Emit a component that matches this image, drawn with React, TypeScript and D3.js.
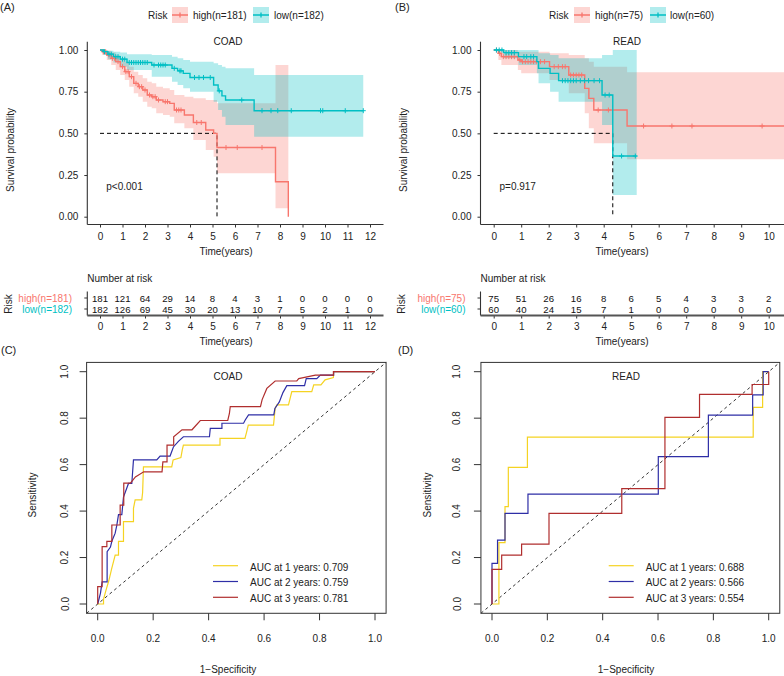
import * as d3 from 'd3'
import { useEffect, useRef } from 'react'

const RED = '#F8766D'
const TEAL = '#00BFC4'
const FONT = '"Liberation Sans", Arial, Helvetica, sans-serif'

// ---- Kaplan-Meier steps: time (years), survival, 95% CI ----
const coadHighTime = [0, 0.1, 0.3, 0.5, 0.7, 0.9, 1.1, 1.3, 1.5, 1.7, 1.9, 2.1, 2.3, 2.5, 2.8, 3.1, 3.3, 3.75, 4.15, 4.7, 5.05, 5.2, 7.8, 8.37]
const coadHighSurv = [1, 0.99, 0.97, 0.95, 0.93, 0.9, 0.87, 0.84, 0.8, 0.78, 0.76, 0.73, 0.72, 0.7, 0.69, 0.68, 0.64, 0.61, 0.565, 0.52, 0.5, 0.415, 0.21, 0]
const coadHighLower = [1, 0.97, 0.94, 0.91, 0.88, 0.85, 0.82, 0.78, 0.74, 0.72, 0.69, 0.66, 0.65, 0.62, 0.61, 0.6, 0.56, 0.53, 0.46, 0.4, 0.36, 0.26, 0.05, 0]
const coadHighUpper = [1, 1, 0.995, 0.985, 0.97, 0.95, 0.93, 0.9, 0.87, 0.85, 0.83, 0.81, 0.8, 0.78, 0.77, 0.76, 0.73, 0.72, 0.71, 0.7, 0.7, 0.68, 0.91, 0]
const coadHighCensor = [0.15, 0.25, 0.4, 0.55, 0.65, 0.8, 1.0, 1.15, 1.25, 1.4, 1.6, 1.75, 1.85, 2.0, 2.2, 2.35, 2.45, 2.6, 2.9, 3.0, 3.4, 3.5, 3.6, 4.3, 4.5, 5.6, 6.1, 7.2]
const coadHighEnd = 8.37

const coadLowTime = [0, 0.15, 0.35, 0.6, 0.9, 1.2, 2.3, 3.2, 3.45, 3.7, 4.0, 5.05, 5.25, 5.42, 5.58, 6.85]
const coadLowSurv = [1, 0.99, 0.975, 0.96, 0.945, 0.925, 0.91, 0.89, 0.875, 0.86, 0.835, 0.79, 0.755, 0.725, 0.7, 0.636]
const coadLowLower = [1, 0.97, 0.945, 0.925, 0.9, 0.88, 0.84, 0.81, 0.79, 0.77, 0.75, 0.69, 0.64, 0.6, 0.55, 0.48]
const coadLowUpper = [1, 1, 0.995, 0.99, 0.985, 0.975, 0.97, 0.96, 0.95, 0.94, 0.93, 0.92, 0.91, 0.9, 0.89, 0.85]
const coadLowCensor = [0.2, 0.4, 0.5, 0.7, 0.8, 1.0, 1.1, 1.3, 1.4, 1.5, 1.6, 1.7, 1.8, 1.9, 2.0, 2.1, 2.4, 2.6, 2.7, 2.8, 2.9, 3.3, 3.55, 3.6, 4.2, 4.4, 4.6, 4.9, 5.3, 6.3, 7.2, 7.6, 7.9, 8.5, 9.8, 9.9, 10.9, 11.7]
const coadLowEnd = 11.7

const readHighTime = [0, 0.17, 0.28, 0.88, 1.0, 2.03, 2.73, 3.31, 3.46, 3.64, 4.85]
const readHighSurv = [1, 0.98, 0.96, 0.94, 0.93, 0.9, 0.85, 0.77, 0.71, 0.64, 0.544]
const readHighLower = [1, 0.94, 0.91, 0.88, 0.86, 0.82, 0.74, 0.62, 0.53, 0.44, 0.344]
const readHighUpper = [1, 1, 1, 0.99, 0.99, 0.98, 0.97, 0.95, 0.93, 0.9, 0.866]
const readHighCensor = [0.1, 0.22, 0.35, 0.45, 0.55, 0.65, 0.75, 0.95, 1.05, 1.15, 1.25, 1.35, 1.45, 1.55, 1.7, 1.85, 2.2, 2.35, 2.5, 2.6, 2.8, 2.9, 3.0, 3.1, 3.2, 3.8, 4.17, 5.45, 6.48, 7.21, 9.76]
const readHighEnd = 11.5

const readLowTime = [0, 0.36, 0.9, 1.57, 1.63, 2.05, 2.36, 3.94, 4.33]
const readLowSurv = [1, 0.984, 0.96, 0.93, 0.89, 0.86, 0.816, 0.73, 0.364]
const readLowLower = [1, 0.95, 0.91, 0.86, 0.8, 0.75, 0.69, 0.55, 0.13]
const readLowUpper = [1, 1, 1, 1, 0.98, 0.97, 0.95, 0.97, 1]
const readLowCensor = [0.1, 0.2, 0.3, 0.45, 0.55, 0.65, 0.75, 1.1, 1.2, 1.35, 1.45, 2.5, 2.6, 2.7, 2.8, 2.9, 3.0, 3.15, 3.3, 3.45, 3.65, 3.85, 4.05, 4.2, 4.65, 5.15]
const readLowEnd = 5.2

const coadMedian = 5.2
const readMedian = 4.33

const coadTimeTicks = [0, 1, 2, 3, 4, 5, 6, 7, 8, 9, 10, 11, 12]
const readTimeTicks = [0, 1, 2, 3, 4, 5, 6, 7, 8, 9, 10]
const survTicks = [0, 0.25, 0.5, 0.75, 1]

const coadRiskHigh = [181, 121, 64, 29, 14, 8, 4, 3, 1, 0, 0, 0, 0]
const coadRiskLow = [182, 126, 69, 45, 30, 20, 13, 10, 7, 5, 2, 1, 0]
const readRiskHigh = [75, 51, 26, 16, 8, 6, 5, 4, 3, 3, 2]
const readRiskLow = [60, 40, 24, 15, 7, 1, 0, 0, 0, 0, 0]

// ---- time-dependent ROC: [1-specificity, sensitivity] ----
const coadRoc1 = [[0, 0], [0.021, 0], [0.021, 0.02], [0.03, 0.06], [0.04, 0.1], [0.05, 0.15], [0.063, 0.21], [0.075, 0.21], [0.075, 0.27], [0.093, 0.27], [0.093, 0.355], [0.129, 0.355], [0.129, 0.412], [0.135, 0.448], [0.159, 0.448], [0.162, 0.48], [0.165, 0.59], [0.267, 0.59], [0.272, 0.62], [0.3, 0.63], [0.305, 0.663], [0.309, 0.684], [0.441, 0.684], [0.441, 0.713], [0.531, 0.713], [0.537, 0.74], [0.543, 0.77], [0.634, 0.77], [0.64, 0.842], [0.646, 0.857], [0.688, 0.857], [0.7, 0.914], [0.772, 0.914], [0.779, 0.943], [0.805, 0.943], [0.82, 0.965], [0.85, 0.975], [0.851, 1], [1, 1]]
const coadRoc2 = [[0, 0], [0.01, 0.047], [0.016, 0.095], [0.034, 0.095], [0.034, 0.225], [0.046, 0.245], [0.051, 0.27], [0.063, 0.305], [0.069, 0.34], [0.075, 0.385], [0.087, 0.385], [0.093, 0.46], [0.111, 0.519], [0.123, 0.519], [0.129, 0.62], [0.213, 0.62], [0.225, 0.637], [0.261, 0.637], [0.273, 0.676], [0.291, 0.7], [0.309, 0.72], [0.403, 0.72], [0.406, 0.756], [0.448, 0.756], [0.448, 0.778], [0.526, 0.778], [0.532, 0.792], [0.544, 0.814], [0.635, 0.814], [0.639, 0.842], [0.655, 0.87], [0.668, 0.91], [0.682, 0.94], [0.746, 0.94], [0.752, 0.97], [0.79, 0.97], [0.803, 0.985], [0.851, 0.985], [0.851, 1], [1, 1]]
const coadRoc3 = [[0, 0], [0, 0.075], [0.016, 0.075], [0.016, 0.247], [0.033, 0.247], [0.033, 0.27], [0.051, 0.27], [0.051, 0.34], [0.081, 0.34], [0.081, 0.426], [0.094, 0.426], [0.094, 0.52], [0.118, 0.52], [0.136, 0.547], [0.166, 0.569], [0.232, 0.569], [0.235, 0.612], [0.25, 0.612], [0.25, 0.684], [0.274, 0.684], [0.274, 0.72], [0.304, 0.75], [0.34, 0.75], [0.37, 0.79], [0.469, 0.79], [0.475, 0.82], [0.478, 0.85], [0.587, 0.85], [0.593, 0.88], [0.61, 0.928], [0.64, 0.96], [0.718, 0.96], [0.725, 0.97], [0.785, 0.985], [0.85, 0.985], [0.85, 1], [1, 1]]

const readRoc1 = [[0, 0], [0.025, 0], [0.025, 0.264], [0.047, 0.264], [0.047, 0.419], [0.059, 0.419], [0.059, 0.588], [0.128, 0.588], [0.128, 0.718], [0.944, 0.718], [0.944, 0.846], [0.978, 0.846], [0.978, 1], [1, 1]]
const readRoc2 = [[0, 0], [0, 0.175], [0.02, 0.175], [0.02, 0.275], [0.047, 0.275], [0.047, 0.39], [0.13, 0.39], [0.13, 0.473], [0.601, 0.473], [0.601, 0.634], [0.782, 0.634], [0.782, 0.813], [0.942, 0.813], [0.942, 0.9], [0.98, 0.9], [0.98, 1], [1, 1]]
const readRoc3 = [[0, 0], [0, 0.149], [0.035, 0.149], [0.035, 0.21], [0.107, 0.21], [0.107, 0.258], [0.206, 0.258], [0.206, 0.39], [0.469, 0.39], [0.469, 0.497], [0.625, 0.497], [0.625, 0.803], [0.75, 0.803], [0.75, 0.902], [0.94, 0.902], [0.94, 0.945], [1, 0.945], [1, 1]]

const rocTicks = [0, 0.2, 0.4, 0.6, 0.8, 1]
const rocYears = [1, 2, 3]
const coadAuc = [0.709, 0.759, 0.781]
const readAuc = [0.688, 0.566, 0.554]
const rocColors = ['#F5D322', '#2E2EA6', '#B02E2E']

type Sel = d3.Selection<SVGSVGElement, unknown, null, undefined>
type Group = { time: number[]; surv: number[]; lower: number[]; upper: number[]; censor: number[]; end: number; color: string; label: string; risk: number[] }

function stepPoints(gr: Group) {
    const pts = gr.time.map((t, i) => ({ t, s: gr.surv[i], lo: gr.lower[i], hi: gr.upper[i] }))
    const last = pts[pts.length - 1]
    if (gr.end > last.t) pts.push({ ...last, t: gr.end })
    return pts
}

function survAt(gr: Group, t: number) {
    let s = gr.surv[0]
    gr.time.forEach((tt, i) => { if (tt <= t) s = gr.surv[i] })
    return s
}

function drawKM(svg: Sel, c: any) {
    const g = svg.append('g')
    const x = d3.scaleLinear().domain([0, c.xMax]).range([c.x0, c.x1])
    const y = d3.scaleLinear().domain([0, 1]).range([216.7, 50])
    const groups: Group[] = c.groups

    const area = d3.area<any>().x(d => x(d.t)).y0(d => y(d.lo)).y1(d => y(d.hi)).curve(d3.curveStepAfter)
    const line = d3.line<any>().x(d => x(d.t)).y(d => y(d.s)).curve(d3.curveStepAfter)

    groups.forEach(gr => {
        g.append('path').attr('d', area(stepPoints(gr))).attr('fill', gr.color).attr('fill-opacity', 0.3)
    })
    // median lines
    g.append('path')
        .attr('d', `M${x(0)},${y(0.5)}H${x(c.median)}V${y(0)}`)
        .attr('fill', 'none').attr('stroke', '#000').attr('stroke-width', 1).attr('stroke-dasharray', '4,3')
    groups.forEach(gr => {
        g.append('path').attr('d', line(stepPoints(gr))).attr('fill', 'none').attr('stroke', gr.color).attr('stroke-width', 1.4)
        g.append('g').selectAll('path').data(gr.censor).enter().append('path')
            .attr('d', t => `M${x(t) - 2.5},${y(survAt(gr, t))}h5M${x(t)},${y(survAt(gr, t)) - 2.5}v5`)
            .attr('stroke', gr.color).attr('stroke-width', 1)
    })

    // axes
    const gx = g.append('g').attr('transform', 'translate(0,224.5)')
        .call(d3.axisBottom(x).tickValues(c.ticks).tickSize(3).tickPadding(5).tickFormat(d3.format('d')))
    gx.select('.domain').remove()
    gx.attr('font-family', FONT).attr('font-size', 10)
    gx.selectAll('text').attr('fill', '#222')
    gx.selectAll('line').attr('stroke', '#333')
    g.append('line').attr('x1', c.axisLeft).attr('x2', c.axisRight).attr('y1', 224.5).attr('y2', 224.5).attr('stroke', '#333').attr('stroke-width', 1.1)

    const gy = g.append('g').attr('transform', `translate(${c.axisLeft},0)`)
        .call(d3.axisLeft(y).tickValues(survTicks).tickSize(3).tickPadding(6).tickFormat(d3.format('.2f')))
    gy.select('.domain').remove()
    gy.attr('font-family', FONT).attr('font-size', 10)
    gy.selectAll('text').attr('fill', '#222')
    gy.selectAll('line').attr('stroke', '#333')
    g.append('line').attr('x1', c.axisLeft).attr('x2', c.axisLeft).attr('y1', 41.7).attr('y2', 224.5).attr('stroke', '#333').attr('stroke-width', 1.1)

    const txt = (tx: number, ty: number, s: string) =>
        g.append('text').attr('x', tx).attr('y', ty).text(s).attr('font-size', 10).attr('fill', '#222')
    txt(c.titleX, 45, c.title).attr('text-anchor', 'middle')
    txt(c.axisLeft + 19, 190, c.pText)
    txt(c.timeX, 255, 'Time(years)').attr('text-anchor', 'middle')
    txt(c.survX, 150, 'Survival probability').attr('text-anchor', 'middle').attr('transform', `rotate(-90,${c.survX},150)`)

    // legend
    txt(c.legend[0], 19, 'Risk')
    groups.forEach((gr, i) => {
        const bx = c.legend[1 + i * 2]
        g.append('rect').attr('x', bx).attr('y', 7).attr('width', 16).attr('height', 16).attr('fill', gr.color).attr('fill-opacity', 0.3)
        g.append('path').attr('d', `M${bx},15h16M${bx + 8},12.5v5`).attr('stroke', gr.color).attr('stroke-width', 1.3)
        txt(c.legend[2 + i * 2], 19, gr.label)
    })

    // risk table
    txt(c.axisLeft, 282, 'Number at risk')
    const rowY = [298, 309]
    groups.forEach((gr, i) => {
        g.append('g').selectAll('text').data(gr.risk).enter().append('text')
            .attr('x', (_, j) => x(c.ticks[j])).attr('y', rowY[i] + 3.6)
            .attr('text-anchor', 'middle').attr('font-size', 9.6).attr('fill', '#111')
            .text(d => d)
        txt(c.rowLabelX, rowY[i] + 3.6, gr.label).attr('text-anchor', 'end').attr('fill', gr.color)
        g.append('line').attr('x1', c.axisLeft - 3).attr('x2', c.axisLeft).attr('y1', rowY[i]).attr('y2', rowY[i]).attr('stroke', '#333')
    })
    g.append('line').attr('x1', c.axisLeft).attr('x2', c.axisLeft).attr('y1', 291.5).attr('y2', 315.5).attr('stroke', '#333').attr('stroke-width', 1.1)
    txt(c.riskX, 304, 'Risk').attr('text-anchor', 'middle').attr('transform', `rotate(-90,${c.riskX},304)`)
    const gr2 = g.append('g').attr('transform', 'translate(0,315.5)')
        .call(d3.axisBottom(x).tickValues(c.ticks).tickSize(3).tickPadding(4).tickFormat(d3.format('d')))
    gr2.select('.domain').remove()
    gr2.attr('font-family', FONT).attr('font-size', 10)
    gr2.selectAll('text').attr('fill', '#222')
    gr2.selectAll('line').attr('stroke', '#333')
    g.append('line').attr('x1', c.axisLeft).attr('x2', c.axisRight).attr('y1', 315.5).attr('y2', 315.5).attr('stroke', '#555').attr('stroke-width', 1.8)
    txt(c.timeX, 344.5, 'Time(years)').attr('text-anchor', 'middle')
}

function drawROC(svg: Sel, c: any) {
    const g = svg.append('g')
    const x = d3.scaleLinear().domain([0, 1]).range([c.x0, c.x1])
    const y = d3.scaleLinear().domain([0, 1]).range([604, 371.7])
    const lo = -0.04, hi = 1.04

    g.append('line').attr('x1', x(lo)).attr('y1', y(lo)).attr('x2', x(hi)).attr('y2', y(hi))
        .attr('stroke', '#333').attr('stroke-width', 1).attr('stroke-dasharray', '3,3')

    const line = d3.line<number[]>().x(d => x(d[0])).y(d => y(d[1]))
    c.curves.forEach((pts: number[][], i: number) => {
        g.append('path').attr('d', line(pts)).attr('fill', 'none').attr('stroke', rocColors[i]).attr('stroke-width', 1.2)
    })

    g.append('rect').attr('x', x(lo)).attr('y', y(hi)).attr('width', x(hi) - x(lo)).attr('height', y(lo) - y(hi))
        .attr('fill', 'none').attr('stroke', '#333').attr('stroke-width', 1)

    const bottom = y(lo), left = x(lo)
    rocTicks.forEach(t => {
        g.append('line').attr('x1', x(t)).attr('x2', x(t)).attr('y1', bottom).attr('y2', bottom + 7).attr('stroke', '#333')
        g.append('text').attr('x', x(t)).attr('y', 641.7).attr('text-anchor', 'middle').attr('font-size', 10).attr('fill', '#222').text(t.toFixed(1))
        g.append('line').attr('x1', left - 7).attr('x2', left).attr('y1', y(t)).attr('y2', y(t)).attr('stroke', '#333')
        g.append('text').attr('x', c.yLabX).attr('y', y(t)).attr('text-anchor', 'middle').attr('font-size', 10).attr('fill', '#222')
            .attr('transform', `rotate(-90,${c.yLabX},${y(t)})`).text(t.toFixed(1))
    })
    g.append('text').attr('x', c.titleX).attr('y', 380).attr('text-anchor', 'middle').attr('font-size', 10).attr('fill', '#222').text(c.title)
    g.append('text').attr('x', c.titleX).attr('y', 673).attr('text-anchor', 'middle').attr('font-size', 10).attr('fill', '#222').text('1\u2212Specificity')
    g.append('text').attr('x', c.sensX).attr('y', 495).attr('text-anchor', 'middle').attr('font-size', 10).attr('fill', '#222')
        .attr('transform', `rotate(-90,${c.sensX},495)`).text('Sensitivity')

    rocYears.forEach((yr, i) => {
        const ly = 565.7 + i * 15.8
        g.append('line').attr('x1', c.legX).attr('x2', c.legX + 25).attr('y1', ly).attr('y2', ly).attr('stroke', rocColors[i]).attr('stroke-width', 1.2)
        g.append('text').attr('x', c.legX + 37).attr('y', ly + 4.8).attr('font-size', 10).attr('fill', '#222')
            .text(`AUC at ${yr} years: ${c.auc[i].toFixed(3)}`)
    })
}

export default function App() {
    const svgRef = useRef<SVGSVGElement>(null)

    useEffect(() => {
        document.body.style.margin = '0'
        const svg = d3.select(svgRef.current!) as Sel
        svg.selectAll('*').remove()
        svg.attr('font-family', FONT)

        drawKM(svg, {
            x0: 100, x1: 370, xMax: 12, axisLeft: 87.3, axisRight: 383.5, ticks: coadTimeTicks,
            median: coadMedian, pText: 'p<0.001', title: 'COAD', titleX: 228, timeX: 226, survX: 13.5,
            legend: [148, 172, 193, 253, 274], rowLabelX: 72, riskX: 11.5,
            groups: [
                { time: coadHighTime, surv: coadHighSurv, lower: coadHighLower, upper: coadHighUpper, censor: coadHighCensor, end: coadHighEnd, color: RED, label: 'high(n=181)', risk: coadRiskHigh },
                { time: coadLowTime, surv: coadLowSurv, lower: coadLowLower, upper: coadLowUpper, censor: coadLowCensor, end: coadLowEnd, color: TEAL, label: 'low(n=182)', risk: coadRiskLow },
            ],
        })
        drawKM(svg, {
            x0: 493.7, x1: 768.7, xMax: 10, axisLeft: 480.5, axisRight: 800, ticks: readTimeTicks,
            median: readMedian, pText: 'p=0.917', title: 'READ', titleX: 627, timeX: 622, survX: 407,
            legend: [549, 574, 595, 650, 670], rowLabelX: 465.5, riskX: 405,
            groups: [
                { time: readHighTime, surv: readHighSurv, lower: readHighLower, upper: readHighUpper, censor: readHighCensor, end: readHighEnd, color: RED, label: 'high(n=75)', risk: readRiskHigh },
                { time: readLowTime, surv: readLowSurv, lower: readLowLower, upper: readLowUpper, censor: readLowCensor, end: readLowEnd, color: TEAL, label: 'low(n=60)', risk: readRiskLow },
            ],
        })
        drawROC(svg, { x0: 97.7, x1: 375, curves: [coadRoc1, coadRoc2, coadRoc3], auc: coadAuc, title: 'COAD', titleX: 228, yLabX: 68.5, sensX: 36, legX: 213 })
        drawROC(svg, { x0: 492, x1: 768.7, curves: [readRoc1, readRoc2, readRoc3], auc: readAuc, title: 'READ', titleX: 626, yLabX: 460.5, sensX: 430.5, legX: 608.7 })

        const letters: [string, number, number][] = [['(A)', 0, 11], ['(B)', 395, 11], ['(C)', 1, 354], ['(D)', 398, 354]]
        letters.forEach(([s, lx, ly]) => {
            svg.append('text').attr('x', lx).attr('y', ly).attr('font-size', 11).attr('fill', '#222').text(s)
        })
    }, [])

    return (
        <svg ref={svgRef} width={784} height={676} style={{ display: 'block', background: '#fff' }}></svg>
    )
}
